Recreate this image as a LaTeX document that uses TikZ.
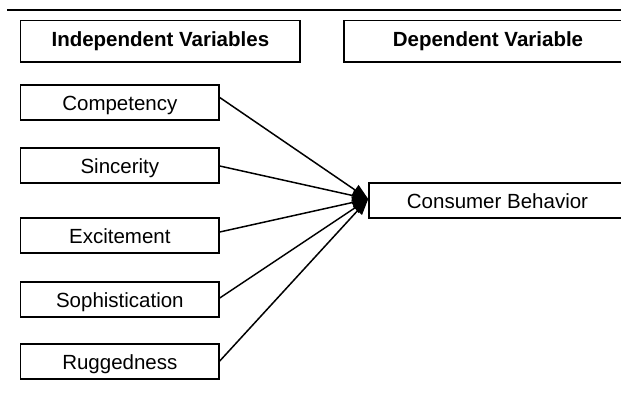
\documentclass[tikz,border=0pt]{standalone}
\usepackage{fontspec}
\setmainfont{Liberation Sans}
\usetikzlibrary{arrows.meta}
\begin{document}
\begin{tikzpicture}[x=1pt,y=-1pt,
  box/.style={draw=black, line width=1.5pt, inner sep=0pt, minimum height=35pt,
    text height=15pt, text depth=0pt, font=\fontsize{20.5}{24}\selectfont},
  item/.style={box, minimum width=198.3pt},
  head/.style={box, minimum height=41.3pt, text height=11pt, font=\fontsize{20.5}{24}\selectfont\bfseries},
  conn/.style={line width=1.5pt, -{Triangle[length=16pt,width=12pt]}}]
\useasboundingbox (0,0) rectangle (621,399);
\coordinate (rs) at (7,10);
\coordinate (re) at (622,10);
\draw[line width=2pt] (rs) -- (re);
\node[head, minimum width=279.3pt] (iv) at (160.35,41.35) {Independent Variables};
\node[head, minimum width=288pt] (dv) at (488,41.35) {Dependent Variable};
\node[item] (comp) at (119.85,102.5) {Competency};
\node[item] (sinc) at (119.85,165.5) {Sincerity};
\node[item] (exci) at (119.85,235.5) {Excitement};
\node[item] (soph) at (119.85,299.5) {Sophistication};
\node[item] (rugg) at (119.85,361.5) {Ruggedness};
\node[box, minimum width=257pt] (cons) at (497.5,200.5) {Consumer Behavior};
\coordinate (tip) at ([yshift=1.5pt]cons.west);
\draw[conn] ([yshift=5pt]comp.east) -- (tip);
\draw[conn] ([yshift=-0.5pt]sinc.east) -- (tip);
\draw[conn] ([yshift=3.5pt]exci.east) -- (tip);
\draw[conn] ([yshift=1.5pt]soph.east) -- (tip);
\draw[conn] ([yshift=0.5pt]rugg.east) -- (tip);
\end{tikzpicture}
\end{document}
